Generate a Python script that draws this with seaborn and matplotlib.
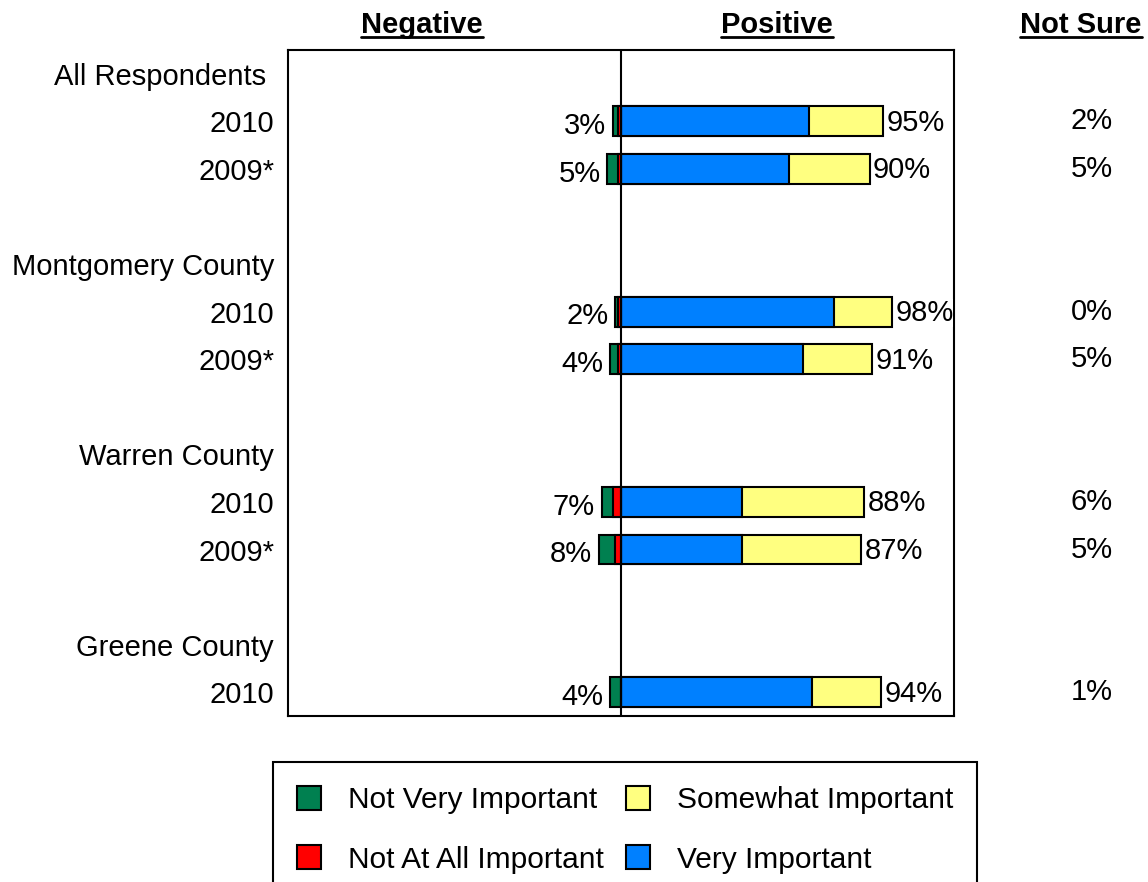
import matplotlib
matplotlib.use("Agg")
import matplotlib.pyplot as plt
import seaborn as sns
from matplotlib.patches import Patch
from matplotlib.lines import Line2D

# slot order (top to bottom) and what is shown on the y axis
slots = ["All", "All 2010", "All 2009", "gap1",
         "Mont", "Mont 2010", "Mont 2009", "gap2",
         "Warren", "Warren 2010", "Warren 2009", "gap3",
         "Greene", "Greene 2010"]
slot_labels = ["All Respondents ", "2010", "2009*", "",
               "Montgomery County", "2010", "2009*", "",
               "Warren County", "2010", "2009*", "",
               "Greene County", "2010"]

# rows that carry bars
bar_rows = ["All 2010", "All 2009", "Mont 2010", "Mont 2009",
            "Warren 2010", "Warren 2009", "Greene 2010"]
very_important = [68, 61, 77, 66, 44, 44, 69]
somewhat_important = [27, 29, 21, 25, 44, 43, 25]
not_very_important = [2, 4, 1, 3, 4, 6, 4]
not_at_all_important = [1, 1, 1, 1, 3, 2, 0]
positive_pct = [95, 90, 98, 91, 88, 87, 94]
negative_pct = [3, 5, 2, 4, 7, 8, 4]
not_sure_pct = [2, 5, 0, 5, 6, 5, 1]

c_green = "#008050"
c_red = "#FF0000"
c_yellow = "#FFFF80"
c_blue = "#0080FF"

sns.set_theme(style="white")
plt.rcParams["font.family"] = ["Liberation Sans", "DejaVu Sans"]
plt.rcParams["text.color"] = "black"
plt.rcParams["ytick.color"] = "black"
plt.rcParams["xtick.color"] = "black"

fig = plt.figure(figsize=(11.48, 8.82), dpi=100)
ax = fig.add_axes([288/1148, 1-716/882, 666/1148, 666/882])

pos_total = [v + s for v, s in zip(very_important, somewhat_important)]
neg_total = [-(a + b) for a, b in zip(not_very_important, not_at_all_important)]
neg_red = [-b for b in not_at_all_important]

kw = dict(y=bar_rows, order=slots, orient="h", edgecolor="black",
          linewidth=1.5, width=0.63, errorbar=None, ax=ax)
sns.barplot(x=pos_total, color=c_yellow, saturation=1, **kw)
sns.barplot(x=very_important, color=c_blue, saturation=1, **kw)
sns.barplot(x=neg_total, color=c_green, saturation=1, **kw)
sns.barplot(x=neg_red, color=c_red, saturation=1, **kw)

ax.axvline(0, color="black", lw=1.5, zorder=5)
ax.set_xlim(-120.6, 120.6)
ax.set_ylim(13.5, -0.5)
ax.set_xticks([])
ax.set_yticks(range(len(slots)))
ax.set_yticklabels(slot_labels, fontsize=21)
ax.tick_params(left=False, bottom=False, pad=4)
ax.set_xlabel("")
ax.set_ylabel("")
for sp in ax.spines.values():
    sp.set_color("black")
    sp.set_linewidth(1.5)

# value labels
for i, key in enumerate(bar_rows):
    y = slots.index(key)
    ax.text(pos_total[i] + 1.3, y + 0.03, f"{positive_pct[i]}%", ha="left",
            va="center", fontsize=21,
            bbox=dict(facecolor="white", edgecolor="none", pad=0))
    ax.text(neg_total[i] - 2.4, y + 0.1, f"{negative_pct[i]}%", ha="right",
            va="center", fontsize=21)
    ax.text((1092-288)/666, y, f"{not_sure_pct[i]}%", ha="center",
            va="center", fontsize=21, transform=ax.get_yaxis_transform())

# column headers, underlined
headers = []
for txt, xc in [("Negative", 422), ("Positive", 777), ("Not Sure", 1081)]:
    headers.append(fig.text(xc/1148, 1-33/882, txt, ha="center",
                            va="baseline", fontsize=21, fontweight="bold"))
fig.canvas.draw()
for t in headers:
    bb = t.get_window_extent()
    fig.add_artist(Line2D([bb.x0/1148, bb.x1/1148], [1-37/882, 1-37/882],
                          transform=fig.transFigure, color="black", lw=2))

handles = [Patch(facecolor=c_green, edgecolor="black", lw=1.5),
           Patch(facecolor=c_red, edgecolor="black", lw=1.5),
           Patch(facecolor=c_yellow, edgecolor="black", lw=1.5),
           Patch(facecolor=c_blue, edgecolor="black", lw=1.5)]
labels = ["Not Very Important", "Not At All Important",
          "Somewhat Important", "Very Important"]
leg = fig.legend(handles, labels, ncol=2, loc="upper left",
                 bbox_to_anchor=(273/1148, 1-762/882), fontsize=21.5,
                 frameon=True, fancybox=False, edgecolor="black",
                 framealpha=1, handlelength=0.8, handleheight=0.85,
                 handletextpad=0.9, columnspacing=0.75, labelspacing=1.05,
                 borderpad=0.8, borderaxespad=0)
leg.get_frame().set_linewidth(1.5)

fig.savefig("out.png", dpi=100)
